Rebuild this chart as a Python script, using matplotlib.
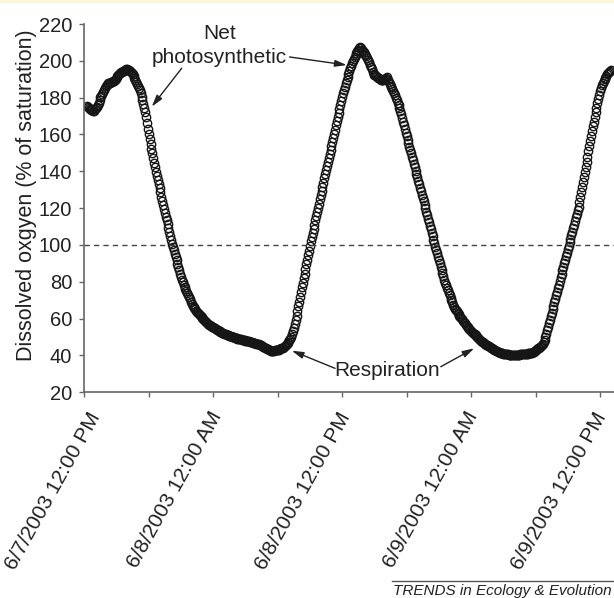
import matplotlib
matplotlib.use('Agg')
import matplotlib.pyplot as plt
import matplotlib.dates as mdates
import matplotlib.transforms as mtransforms
import pandas as pd
from matplotlib.patches import Rectangle
from matplotlib.lines import Line2D

plt.rcParams['font.family'] = ['Liberation Sans', 'DejaVu Sans']

# Dissolved oxygen (% of saturation), one reading every 5 minutes from 6/7/2003 12:15 PM
do_sat = [
    175.5, 175.0, 174.5, 174.0, 173.7, 173.4, 173.1, 172.8, 173.0, 173.6, 174.2, 174.8,
    175.9, 177.3, 178.7, 180.1, 181.1, 182.1, 183.1, 184.1, 185.1, 186.1, 187.1, 187.5,
    187.7, 187.9, 188.2, 188.4, 188.6, 188.8, 189.1, 189.7, 190.4, 191.0, 191.6, 192.2,
    192.9, 193.5, 193.8, 194.1, 194.3, 194.6, 194.8, 195.1, 195.3, 195.4, 195.2, 194.9,
    194.7, 194.2, 193.5, 192.7, 191.9, 190.9, 189.8, 188.6, 187.5, 186.3, 185.2, 184.0,
    182.4, 180.5, 178.5, 176.5, 174.5, 172.4, 169.3, 166.2, 163.1, 160.0, 157.4, 154.9,
    152.3, 149.7, 147.2, 144.6, 142.1, 139.6, 137.3, 135.1, 132.9, 130.7, 128.5, 126.2,
    124.0, 121.8, 119.6, 117.5, 115.4, 113.3, 111.3, 109.2, 107.1, 105.0, 102.9, 100.8,
    98.9, 97.1, 95.3, 93.5, 91.6, 89.8, 88.0, 86.2, 84.3, 82.5, 80.8, 79.7,
    78.5, 77.4, 76.2, 75.1, 73.9, 72.8, 71.6, 70.5, 69.3, 68.2, 67.0, 66.2,
    65.6, 65.0, 64.4, 63.8, 63.2, 62.7, 62.1, 61.5, 60.9, 60.3, 59.7, 59.1,
    58.5, 58.0, 57.4, 57.1, 56.8, 56.5, 56.2, 55.9, 55.6, 55.3, 55.0, 54.7,
    54.4, 54.1, 53.8, 53.5, 53.2, 52.9, 52.6, 52.3, 52.0, 51.8, 51.6, 51.5,
    51.3, 51.1, 51.0, 50.8, 50.6, 50.4, 50.2, 50.1, 49.9, 49.7, 49.5, 49.4,
    49.2, 49.1, 49.0, 48.9, 48.7, 48.6, 48.5, 48.4, 48.2, 48.1, 48.0, 47.9,
    47.7, 47.6, 47.5, 47.3, 47.2, 47.0, 46.9, 46.7, 46.6, 46.4, 46.3, 46.1,
    46.0, 45.8, 45.6, 45.4, 45.1, 44.8, 44.5, 44.2, 43.9, 43.6, 43.3, 43.0,
    42.7, 42.6, 42.5, 42.5, 42.5, 42.6, 42.7, 42.8, 42.9, 43.0, 43.2, 43.4,
    43.6, 43.8, 44.0, 44.3, 44.7, 45.2, 45.7, 46.3, 46.9, 47.5, 48.2, 48.9,
    50.1, 51.6, 53.3, 55.1, 57.0, 59.3, 61.7, 64.2, 66.7, 69.3, 72.0, 74.5,
    77.0, 79.5, 82.0, 84.5, 87.0, 89.5, 92.0, 94.5, 97.0, 99.5, 101.9, 104.3,
    106.5, 108.8, 111.1, 113.4, 115.7, 118.0, 120.2, 122.5, 124.8, 127.1, 129.4, 131.6,
    133.9, 136.2, 138.4, 140.7, 142.9, 145.1, 147.3, 149.5, 151.7, 153.9, 156.1, 158.3,
    160.5, 162.7, 164.9, 167.1, 169.3, 171.5, 173.7, 175.9, 178.1, 180.3, 182.3, 184.2,
    186.0, 187.8, 189.5, 191.2, 192.8, 194.4, 195.9, 197.3, 198.6, 199.8, 201.0, 202.1,
    203.1, 204.1, 205.1, 206.0, 206.8, 207.4, 206.7, 206.0, 205.3, 204.6, 203.8, 203.0,
    202.6, 201.7, 200.5, 199.2, 197.9, 196.7, 195.4, 194.2, 193.0, 192.5, 192.1, 191.7,
    191.3, 190.9, 190.5, 190.1, 189.8, 189.6, 189.6, 189.8, 190.0, 190.2, 190.6, 191.2,
    189.5, 188.3, 187.4, 186.5, 185.6, 184.6, 183.6, 182.6, 181.3, 180.0, 178.6, 177.2,
    175.8, 174.4, 172.9, 170.9, 168.9, 166.9, 164.9, 162.9, 160.9, 159.0, 157.1, 155.3,
    153.4, 151.6, 149.7, 147.8, 145.9, 144.0, 142.2, 140.4, 138.5, 136.7, 134.8, 133.0,
    131.1, 129.3, 127.4, 125.5, 123.7, 121.8, 120.0, 118.1, 116.2, 114.3, 112.4, 110.5,
    108.6, 106.7, 104.8, 102.9, 101.0, 99.1, 97.3, 95.5, 93.7, 91.9, 90.1, 88.3,
    86.5, 84.7, 82.9, 81.1, 79.6, 78.1, 76.7, 75.3, 73.9, 72.6, 71.3, 70.0,
    68.8, 67.6, 66.4, 65.5, 64.7, 63.9, 63.1, 62.4, 61.7, 61.0, 60.3, 59.6,
    58.9, 58.2, 57.5, 56.8, 56.2, 55.6, 55.0, 54.4, 53.9, 53.4, 52.9, 52.4,
    51.9, 51.4, 50.9, 50.4, 49.9, 49.4, 48.9, 48.4, 47.9, 47.5, 47.1, 46.7,
    46.4, 46.1, 45.8, 45.5, 45.2, 44.9, 44.6, 44.3, 44.0, 43.7, 43.4, 43.1,
    42.8, 42.5, 42.2, 41.9, 41.7, 41.5, 41.3, 41.2, 41.1, 41.0, 40.9, 40.8,
    40.7, 40.7, 40.6, 40.5, 40.5, 40.4, 40.4, 40.3, 40.3, 40.3, 40.3, 40.3,
    40.4, 40.4, 40.5, 40.5, 40.6, 40.6, 40.7, 40.7, 40.8, 40.8, 40.9, 41.0,
    41.0, 41.1, 41.2, 41.3, 41.4, 41.5, 41.7, 42.0, 42.3, 42.7, 43.1, 43.5,
    43.9, 44.3, 44.7, 45.1, 45.6, 46.2, 47.3, 48.6, 50.1, 51.8, 53.6, 55.5,
    57.4, 59.3, 61.2, 63.1, 65.0, 66.9, 68.8, 70.7, 72.6, 74.5, 76.5, 78.5,
    80.4, 82.4, 84.3, 86.2, 88.1, 90.0, 91.9, 93.8, 95.7, 97.6, 99.5, 101.4,
    103.3, 105.3, 107.2, 109.2, 111.1, 113.0, 115.0, 116.9, 118.9, 120.8, 123.3, 126.0,
    128.6, 131.3, 134.0, 136.8, 139.6, 142.4, 145.2, 148.0, 150.8, 153.6, 156.3, 159.1,
    161.8, 164.4, 167.0, 169.5, 172.0, 174.5, 177.0, 179.4, 181.6, 183.5, 185.2, 186.7,
    187.9, 189.0, 190.0, 190.9, 191.8, 192.6, 193.3, 194.0, 194.6, 195.2,
]
start_time = '2003-06-07 12:15'
interval = '5min'

axis_start = '2003-06-07 12:00'
axis_hours = 49.3
tick_times = ['2003-06-07 12:00', '2003-06-08 00:00', '2003-06-08 12:00',
              '2003-06-09 00:00', '2003-06-09 12:00']
tick_labels = ['6/7/2003 12:00 PM', '6/8/2003 12:00 AM', '6/8/2003 12:00 PM',
               '6/9/2003 12:00 AM', '6/9/2003 12:00 PM']
minor_times = ['2003-06-07 18:00', '2003-06-08 06:00', '2003-06-08 18:00',
               '2003-06-09 06:00']
y_ticks = [20, 40, 60, 80, 100, 120, 140, 160, 180, 200, 220]
saturation_level = 100

times = pd.date_range(start_time, periods=len(do_sat), freq=interval)
t0 = pd.Timestamp(axis_start)


def hx(h):
    return mdates.date2num(t0 + pd.Timedelta(hours=h))


W, H = 614, 598
fig = plt.figure(figsize=(W / 100, H / 100), dpi=100)
fig.add_artist(Rectangle((0, 1 - 3.3 / H), 1, 3.3 / H, transform=fig.transFigure,
                         facecolor='#fbf6d6', edgecolor='none'))

ax = fig.add_axes([84.3 / W, (H - 392.3) / H, (W - 84.3) / W, 368.3 / H])

ax.plot(times, do_sat, linestyle='none', marker='o', markersize=6.0,
        markerfacecolor='none', markeredgecolor='#161616', markeredgewidth=1.0)
ax.axhline(saturation_level, color='#444444', lw=1.0, linestyle=(0, (3.8, 3.0)))

ax.set_ylim(y_ticks[0], y_ticks[-1])
ax.set_yticks(y_ticks)
ax.set_xlim(hx(0), hx(axis_hours))
major_dt = pd.to_datetime(tick_times)
ax.set_xticks(major_dt)
ax.set_xticklabels([])
ax.set_xticks(pd.to_datetime(minor_times), minor=True)

# rotated date labels drawn at each tick, with small pixel nudges
label_shift_px = [3.0, -4.0, -5.0, -6.0, -6.0]
xaxis_tr = ax.get_xaxis_transform()
for t, lab, dx in zip(major_dt, tick_labels, label_shift_px):
    tr = xaxis_tr + mtransforms.ScaledTranslation(dx / 100, -16.4 / 100,
                                                  fig.dpi_scale_trans)
    ax.text(mdates.date2num(t), 0, lab, transform=tr, rotation=61, ha='right',
            va='top', rotation_mode='anchor', fontsize=15, color='#222222',
            clip_on=False)

for s in ['top', 'right']:
    ax.spines[s].set_visible(False)
for s in ['left', 'bottom']:
    ax.spines[s].set_color('#666666')
    ax.spines[s].set_linewidth(1.2)

ax.tick_params(axis='both', which='both', direction='out', length=3.8,
               width=1.0, color='#666666')
ax.tick_params(axis='y', pad=5, labelsize=14.5, labelcolor='#222222')

ax.set_ylabel('Dissolved oxgyen (% of saturation)', fontsize=15.5, color='#222222')
ax.yaxis.set_label_coords(-0.0893, 0.535)

arrow_kw = dict(arrowstyle='-|>,head_width=0.2,head_length=0.7', color='#222222',
                lw=1.0, shrinkA=0, shrinkB=0)
ax.text(hx(12.55), 214.8, 'Net', ha='center', va='center', fontsize=15, color='#222222')
ax.text(hx(12.59), 201.8, 'photosynthetic', ha='center', va='center', fontsize=15,
        color='#222222')
ax.annotate('', xy=(hx(6.28), 175.1), xytext=(hx(9.07), 196.0), arrowprops=arrow_kw)
ax.annotate('', xy=(hx(24.43), 197.7), xytext=(hx(19.1), 202.1), arrowprops=arrow_kw)

ax.text(hx(28.18), 32.1, 'Respiration', ha='center', va='center', fontsize=15,
        color='#222222')
ax.annotate('', xy=(hx(19.31), 42.6), xytext=(hx(23.34), 33.0), arrowprops=arrow_kw)
ax.annotate('', xy=(hx(36.29), 43.9), xytext=(hx(33.18), 33.9), arrowprops=arrow_kw)

fig.add_artist(Line2D([392 / W, 1.0], [1 - 581 / H, 1 - 581 / H],
                      transform=fig.transFigure, color='#555555', lw=1.0))
fig.text(612 / W, 1 - 595 / H, 'TRENDS in Ecology & Evolution', ha='right',
         va='baseline', fontsize=11, style='italic', color='#222222')

fig.savefig('out.png', dpi=100)
